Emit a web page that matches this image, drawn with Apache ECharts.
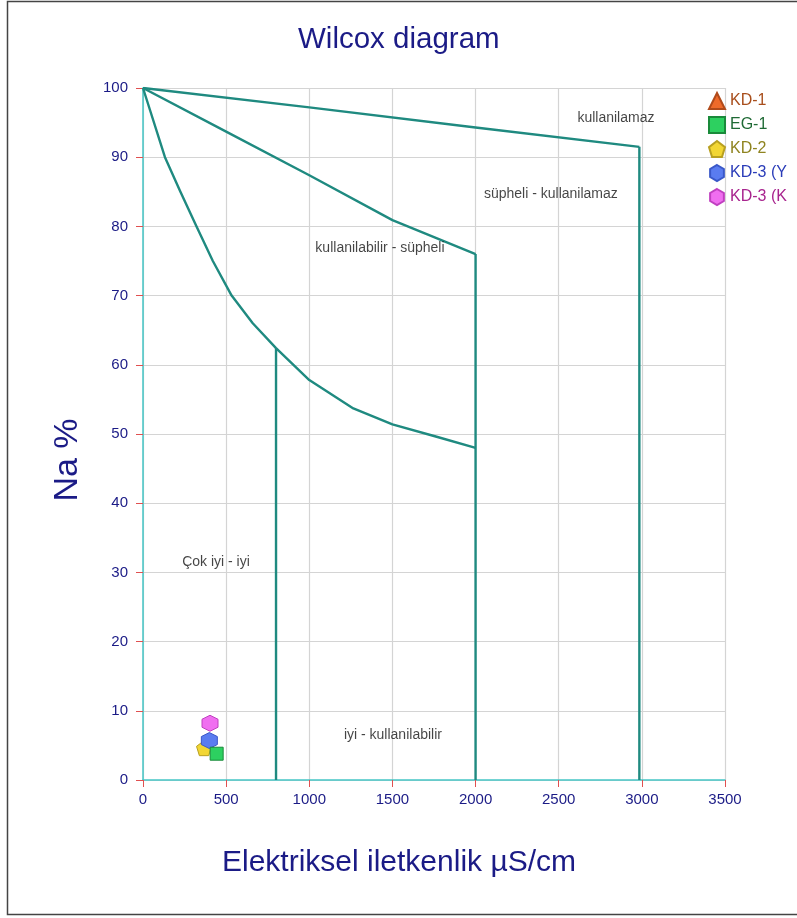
<!DOCTYPE html>
<html>
<head>
<meta charset="utf-8">
<script src="https://cdn.jsdelivr.net/npm/echarts@6/dist/echarts.min.js"></script>
<style>
  html, body { margin: 0; padding: 0; background: #fff; }
  #chart { width: 797px; height: 918px; }
</style>
</head>
<body>
<div id="chart"></div>
<script>
// Axis ticks
const xTicks = [0, 500, 1000, 1500, 2000, 2500, 3000, 3500];
const yTicks = [0, 10, 20, 30, 40, 50, 60, 70, 80, 90, 100];

// Classification boundaries [EC µS/cm, Na %]
const topBoundary = [[0, 100], [1000, 97.2], [2000, 94.3], [2985, 91.5]];
const topVertical = [[2985, 91.5], [2985, 0]];
const midBoundary = [[0, 100], [500, 93.7], [1000, 87.4], [1500, 80.9], [2000, 76]];
const midVertical = [[2000, 76], [2000, 0]];
const lowBoundary = [[0, 100], [132, 90], [225, 85], [322, 80], [420, 75], [533, 70], [660, 66], [800, 62.4], [1000, 57.8], [1265, 53.7], [1500, 51.4], [1766, 49.6], [2000, 48]];
const lowVertical = [[800, 62.4], [800, 0]];

// Zone labels [EC, Na %, text]
const zoneLabels = [
  [2844, 95.7, 'kullanilamaz'],
  [2453, 84.7, 'süpheli - kullanilamaz'],
  [1425, 76.9, 'kullanilabilir - süpheli'],
  [439, 31.5, 'Çok iyi - iyi'],
  [1503, 6.5, 'iyi - kullanilabilir']
];

// Water samples [EC, Na %]
const sampleNames = ['KD-1', 'EG-1', 'KD-2', 'KD-3 (Y', 'KD-3 (K'];
const kd1 = [[390, 5.2]];
const eg1 = [[443, 3.8]];
const kd2 = [[367, 4.6]];
const kd3y = [[399, 5.7]];
const kd3k = [[403, 8.2]];

const navy = '#1b1b86';
const teal = '#1f8a80';
const font = 'Liberation Sans, Arial, sans-serif';

const hexagonV = 'path://M50,0 L93,25 L93,75 L50,100 L7,75 L7,25 Z';
const pentagon = 'path://M50,0 L100,38 L81,100 L19,100 L0,38 Z';

function boundary(data) {
  return {
    type: 'line', data: data, symbol: 'none', silent: true,
    lineStyle: { color: teal, width: 2.4, join: 'round' }, z: 3
  };
}

function sample(name, data, symbol, fill, border, size, z) {
  return {
    type: 'scatter', name: name, data: data, symbol: symbol, symbolSize: size,
    itemStyle: { color: fill, borderColor: border, borderWidth: 1, opacity: 1 },
    z: z
  };
}

const legendColors = ['#a84e1c', '#1f6a35', '#8f8420', '#2a3cb8', '#a8248e'];

const chart = echarts.init(document.getElementById('chart'));
chart.setOption({
  backgroundColor: '#fff',
  animation: false,
  title: {
    text: 'Wilcox diagram', left: 293, top: 20,
    textStyle: { fontFamily: font, fontSize: 29.5, fontWeight: 'normal', color: navy }
  },
  grid: { left: 143, right: 72, top: 88, bottom: 138 },
  legend: {
    orient: 'vertical', left: 703, top: 87, itemGap: 6,
    itemWidth: 16, itemHeight: 16,
    data: sampleNames.map((n, i) => ({ name: n, textStyle: { color: legendColors[i] } })),
    textStyle: { fontFamily: font, fontSize: 16 }
  },
  xAxis: {
    type: 'value', min: 0, max: 3500, interval: 500,
    name: 'Elektriksel iletkenlik µS/cm', nameLocation: 'middle', nameGap: 68,
    nameTextStyle: { fontFamily: font, fontSize: 30, color: navy, padding: [0, 70, 0, 0] },
    axisLine: { lineStyle: { color: '#45c6c6', width: 1.5 } },
    axisTick: { show: true, length: 7, lineStyle: { color: '#e05050' } },
    axisLabel: { fontFamily: font, fontSize: 15, color: navy, margin: 12, formatter: v => String(v) },
    splitLine: { show: true, lineStyle: { color: '#d4d4d4', width: 1.2 } }
  },
  yAxis: {
    type: 'value', min: 0, max: 100, interval: 10,
    axisLine: { show: true, lineStyle: { color: '#45c6c6', width: 1.5 } },
    axisTick: { show: true, length: 7, lineStyle: { color: '#e05050' } },
    axisLabel: { fontFamily: font, fontSize: 15, color: navy, margin: 15, formatter: v => String(v) },
    splitLine: { show: true, lineStyle: { color: '#d4d4d4', width: 1.2 } }
  },
  graphic: [
    {
      type: 'rect', silent: true,
      shape: { x: 7.5, y: 1.5, width: 800, height: 913 },
      style: { fill: 'none', stroke: '#444', lineWidth: 1.5 }
    },
    {
      type: 'text', silent: true, x: 68, y: 460, rotation: Math.PI / 2,
      style: {
        text: 'Na %', fontFamily: font, fontSize: 34, fill: navy,
        textAlign: 'center', textVerticalAlign: 'middle'
      }
    }
  ],
  series: [
    boundary(topBoundary), boundary(topVertical),
    boundary(midBoundary), boundary(midVertical),
    boundary(lowBoundary), boundary(lowVertical),
    {
      type: 'scatter', silent: true, symbolSize: 0,
      data: zoneLabels.map(d => ({ value: [d[0], d[1]], name: d[2] })),
      label: {
        show: true, position: 'inside', formatter: p => p.name,
        fontFamily: font, fontSize: 14, color: '#151515'
      },
      z: 4
    },
    sample('KD-1', kd1, 'triangle', '#ee6a2a', '#b04a1a', 14, 5),
    sample('KD-2', kd2, pentagon, '#f2d633', '#b8a020', 15, 6),
    sample('KD-3 (Y', kd3y, hexagonV, '#5a7cf0', '#3a58c8', 16, 7),
    sample('EG-1', eg1, 'rect', '#2dd060', '#1a8a3a', 13, 8),
    sample('KD-3 (K', kd3k, hexagonV, '#f06ef0', '#c040c0', 16, 7)
  ]
});
</script>
</body>
</html>
